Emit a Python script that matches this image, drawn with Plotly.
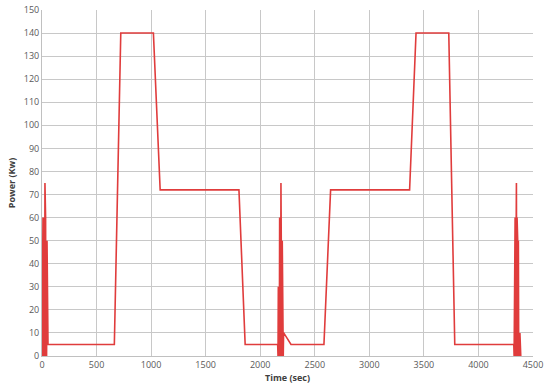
import plotly.graph_objects as go

# drive cycle power trace
time_sec = [0, 3, 6, 9, 12, 15, 18, 21, 24, 27, 30, 33, 36, 39, 42, 46, 50, 55,
            663, 722, 1021, 1083, 1805, 1862, 2160,
            2163, 2166, 2169, 2172, 2175, 2178, 2181, 2184, 2187, 2190, 2193, 2196, 2199, 2202, 2205, 2208, 2211, 2214,
            2216, 2282, 2584, 2645, 3369, 3428, 3728, 3783, 4324,
            4327, 4330, 4333, 4336, 4339, 4342, 4345, 4348, 4351, 4354, 4357, 4360, 4363, 4366, 4369, 4372, 4376,
            4380, 4388]
power_kw = [0, 60, 0, 60, 0, 60, 0, 60, 0, 75, 0, 60, 0, 50, 0, 50, 10, 5,
            5, 140, 140, 72, 72, 5, 5,
            0, 30, 0, 30, 0, 60, 0, 60, 0, 75, 0, 60, 0, 50, 0, 50, 0, 10,
            10, 5, 5, 72, 72, 140, 140, 5, 5,
            0, 30, 0, 60, 0, 60, 0, 75, 0, 60, 0, 50, 0, 50, 0, 10, 0,
            10, 0]

x_ticks = [0, 500, 1000, 1500, 2000, 2500, 3000, 3500, 4000, 4500]
y_ticks = list(range(0, 151, 10))

fig = go.Figure()
fig.add_trace(go.Scatter(x=time_sec, y=power_kw, mode="lines",
                         line=dict(color="#e03c3c", width=1.6), showlegend=False))

axis_font = dict(family="Open Sans, Liberation Sans, sans-serif", size=9, color="#595959")
fig.update_layout(
    width=550, height=386,
    margin=dict(l=42, r=17, t=10, b=30),
    paper_bgcolor="white", plot_bgcolor="white",
    xaxis=dict(range=[0, 4500], tickvals=x_ticks, showgrid=True, gridcolor="#c8c8c8", gridwidth=1,
               zeroline=False, showline=True, linecolor="#c0c0c0", tickfont=axis_font, automargin=False,
               ticks="", title=dict(text="<b>Time (sec)</b>", font=dict(axis_font, color="#404040"), standoff=2)),
    yaxis=dict(range=[0, 150], tickvals=y_ticks, showgrid=True, gridcolor="#c8c8c8", gridwidth=1,
               zeroline=False, showline=True, linecolor="#c0c0c0", tickfont=axis_font, automargin=False,
               ticks="", title=dict(text="<b>Power (Kw)</b>", font=dict(axis_font, color="#404040"), standoff=6)),
)

# drop the default page margin so the chart sits at the window corner
fig.write_html("out.html", config={"displayModeBar": False},
               post_script="document.body.style.margin='0';")
